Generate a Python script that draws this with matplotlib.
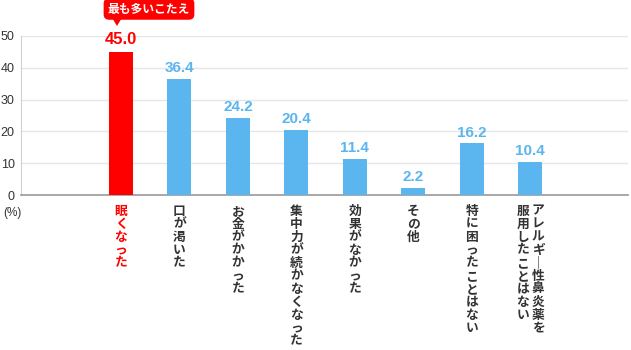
import matplotlib
matplotlib.use("Agg")
import matplotlib.pyplot as plt
from matplotlib.patches import Polygon

plt.rcParams["font.family"] = ["Noto Sans CJK JP", "DejaVu Sans"]

categories = [
    "眠くなった",
    "口が渇いた",
    "お金がかかった",
    "集中力が続かなくなった",
    "効果がなかった",
    "その他",
    "特に困ったことはない",
    ["アレルギ｜性鼻炎薬を", "服用したことはない"],
]
values = [45.0, 36.4, 24.2, 20.4, 11.4, 2.2, 16.2, 10.4]
yticks = [0, 10, 20, 30, 40, 50]
highlight = 0
callout_text = "最も多いこたえ"

RED = "#FF0000"
BLUE = "#5BB5EF"
TEXT = "#333333"
NUM_FONT = ["Liberation Sans", "DejaVu Sans"]

fig = plt.figure(figsize=(6.31, 3.5), dpi=100)
ax = fig.add_axes([21 / 631, 1 - 195 / 350, (628 - 21) / 631, (195 - 36) / 350])

x = list(range(len(values)))
colors = [RED if i == highlight else BLUE for i in x]
ax.bar(x, values, width=0.41, color=colors, zorder=3)

ax.set_xlim(-1.71, 8.67)
ax.set_ylim(0, 50)
ax.set_yticks(yticks)
ax.set_yticklabels([str(t) for t in yticks], fontsize=9, color=TEXT, family=NUM_FONT)
ax.set_xticks([])
ax.tick_params(axis="y", length=0, pad=4.5)
ax.grid(axis="y", color="#e6e6e6", linewidth=1, zorder=0)
ax.set_axisbelow(True)
for side in ["top", "right"]:
    ax.spines[side].set_visible(False)
ax.spines["left"].set_color("#d0d0d0")
ax.spines["bottom"].set_color("#999999")
ax.spines["bottom"].set_linewidth(1.2)

for i, v in enumerate(values):
    top = i == highlight
    ax.annotate(f"{v:.1f}", xy=(i, v), xytext=(0, 6 if top else 5), textcoords="offset points",
                ha="center", va="baseline", fontsize=12 if top else 11, fontweight="bold",
                color=RED if top else BLUE, family=NUM_FONT)

for i, lab in enumerate(categories):
    c = RED if i == highlight else TEXT
    cols = lab if isinstance(lab, list) else [lab]
    n = len(cols)
    for k, col in enumerate(cols):
        dx = (n - 1) / 2 * 11 - k * 11
        ax.annotate("\n".join(col), xy=(i, 0), xycoords="data",
                    xytext=(dx, -7), textcoords="offset points",
                    ha="center", va="top", fontsize=9.2, fontweight="bold",
                    color=c, linespacing=1.0, annotation_clip=False)

fig.text(3 / 631, 1 - 213 / 350, "(%)", fontsize=8.5, color=TEXT, va="center", ha="left",
         family=NUM_FONT)

# callout above the highlighted bar
fig.text(149 / 631, 1 - 9 / 350, callout_text, fontsize=8.5, fontweight="bold",
         color="white", ha="center", va="center",
         bbox=dict(boxstyle="round,pad=0.3,rounding_size=0.4", fc=RED, ec=RED))
tri = Polygon([(111 / 631, 1 - 16 / 350), (123 / 631, 1 - 16 / 350), (117 / 631, 1 - 26 / 350)],
              closed=True, transform=fig.transFigure, fc=RED, ec="none")
fig.patches.append(tri)

fig.savefig("out.png", dpi=100)
